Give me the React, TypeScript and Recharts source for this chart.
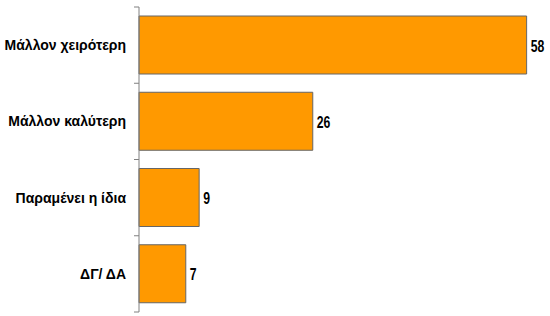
import { BarChart, Bar, XAxis, YAxis, LabelList } from 'recharts'

const categories = ['Μάλλον χειρότερη', 'Μάλλον καλύτερη', 'Παραμένει η ίδια', 'ΔΓ/ ΔΑ']
const values = [58, 26, 9, 7]

const data = categories.map((name, i) => ({ name, value: values[i] }))

const TOP = 7
const BOTTOM = 4
const HEIGHT = 316
const BAND = (HEIGHT - TOP - BOTTOM) / categories.length

const CategoryTick = ({ x, y, payload, index }: any) => (
  <g>
    <line x1={x + 8} x2={x + 13} y1={y - BAND / 2} y2={y - BAND / 2} stroke="#808080" />
    {index === categories.length - 1 && (
      <line x1={x + 8} x2={x + 13} y1={y + BAND / 2} y2={y + BAND / 2} stroke="#808080" />
    )}
    <text
      x={x}
      y={y}
      dy={5}
      textAnchor="end"
      fill="#000"
      style={{ fontFamily: '"Liberation Sans", Arial, sans-serif', fontSize: 14, fontWeight: 'bold' }}
    >
      {payload.value}
    </text>
  </g>
)

// narrow digits like the original's condensed font
const ValueLabel = ({ x, y, width, height, value }: any) => (
  <text
    transform={`translate(${x + width + 4}, ${y + height / 2 + 6.5}) scale(0.72, 1)`}
    fill="#000"
    style={{ fontFamily: '"Liberation Sans", Arial, sans-serif', fontSize: 17, fontWeight: 'bold' }}
  >
    {value}
  </text>
)

export default function App() {
  return (
    <div style={{ position: 'absolute', left: 0, top: 0, background: '#fff' }}>
      <BarChart
        width={550}
        height={HEIGHT}
        data={data}
        layout="vertical"
        margin={{ top: TOP, right: 10, bottom: BOTTOM, left: 0 }}
      >
        <XAxis type="number" domain={[0, 60]} hide />
        <YAxis
          type="category"
          dataKey="name"
          width={139}
          tickLine={false}
          tickSize={0}
          tickMargin={13}
          axisLine={{ stroke: '#808080' }}
          tick={<CategoryTick />}
          interval={0}
        />
        <Bar dataKey="value" fill="#FF9900" stroke="#666" strokeWidth={1} barSize={58} isAnimationActive={false}>
          <LabelList dataKey="value" content={<ValueLabel />} />
        </Bar>
      </BarChart>
    </div>
  )
}
